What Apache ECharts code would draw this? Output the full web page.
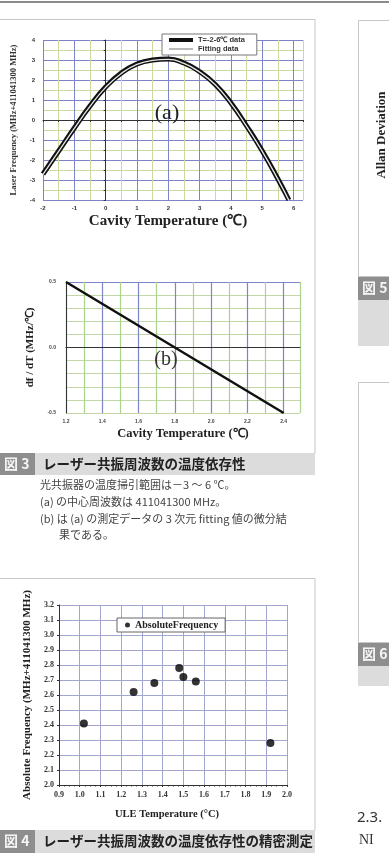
<!DOCTYPE html>
<html>
<head>
<meta charset="utf-8">
<script src="https://cdn.jsdelivr.net/npm/echarts@6/dist/echarts.min.js"></script>
<style>
html,body{margin:0;padding:0;background:#fff;}
#main{width:389px;height:853px;}
</style>
</head>
<body>
<div id="main"></div>
<script>
// 图3(a) 腔温度与激光频率
var tempA = [-2, -1.5, -1, -0.5, 0, 0.5, 1, 1.5, 2, 2.5, 3, 3.5, 4, 4.5, 5, 5.5, 5.85]
var freqData = [-2.7, -1.55, -0.4, 0.7, 1.65, 2.35, 2.8, 3.0, 3.05, 2.85, 2.42, 1.78, 0.85, -0.3, -1.55, -2.95, -4.0]
var freqFit = [-2.72, -1.57, -0.42, 0.68, 1.63, 2.33, 2.78, 2.98, 3.03, 2.83, 2.4, 1.76, 0.83, -0.32, -1.57, -2.97, -4.02]
// 图3(b) 微分结果
var tempB = [1.2, 1.5, 1.8, 2.1, 2.4]
var dfdt = [0.5, 0.25, 0.0, -0.25, -0.5]
// 图4 精密测定
var uleTemp = [1.02, 1.26, 1.36, 1.48, 1.50, 1.56, 1.92]
var absFreq = [2.41, 2.62, 2.68, 2.78, 2.72, 2.69, 2.28]

var blue = '#7d84c8'
var green = '#cadba2'
var serif = 'Liberation Serif'
var jp = 'Noto Sans CJK JP'

function pairs(xs, ys) {
    return xs.map(function (x, i) { return [x, ys[i]]; });
}

var myChart = echarts.init(document.getElementById('main'));

var option = {
    animation: false,
    backgroundColor: '#fff',
    grid: [
        {left: 43, top: 40, width: 260, height: 160},
        {left: 66, top: 282, width: 234, height: 131},
        {left: 59, top: 605, width: 228, height: 180}
    ],
    xAxis: [
        {
            gridIndex: 0, type: 'value', min: -2, max: 6.3, interval: 0.5,
            name: 'Cavity Temperature (℃)', nameLocation: 'middle', nameGap: 14,
            nameTextStyle: {fontFamily: serif, fontWeight: 'bold', fontSize: 15, color: '#222', padding: [0, 10, 0, 0]},
            axisLine: {lineStyle: {color: '#333'}},
            axisTick: {length: 2, lineStyle: {color: '#333'}},
            axisLabel: {fontSize: 6, fontWeight: 'bold', color: '#333', margin: 5,
                formatter: function (v) { return Number.isInteger(v) ? v : ''; }},
            splitLine: {show: true, lineStyle: {color: [blue, green], width: 1}}
        },
        {
            gridIndex: 1, type: 'value', min: 1.2, max: 2.49, interval: 0.1,
            name: 'Cavity Temperature (℃)', nameLocation: 'middle', nameGap: 14,
            nameTextStyle: {fontFamily: serif, fontWeight: 'bold', fontSize: 12.5, color: '#222'},
            axisLine: {lineStyle: {color: '#333'}},
            axisTick: {show: false},
            axisLabel: {fontSize: 5, fontWeight: 'bold', color: '#444', margin: 6,
                formatter: function (v) {
                    return (Math.round(v * 10) % 2 === 0 && v < 2.45) ? v.toFixed(1) : '';
                }},
            splitLine: {show: true, lineStyle: {color: [blue, '#a9d28c'], width: 1.2}}
        },
        {
            gridIndex: 2, type: 'value', min: 0.9, max: 2.0, interval: 0.1,
            name: 'ULE Temperature (°C)', nameLocation: 'middle', nameGap: 24,
            nameTextStyle: {fontFamily: serif, fontWeight: 'bold', fontSize: 10.5, color: '#222', padding: [0, 12, 0, 0]},
            axisLine: {lineStyle: {color: '#333'}},
            axisTick: {length: 2, lineStyle: {color: '#333'}},
            minorTick: {show: true, splitNumber: 4, length: 1.5},
            axisLabel: {fontSize: 8, fontWeight: 'bold', fontFamily: serif, color: '#333', margin: 6,
                formatter: function (v) { return v.toFixed(1); }},
            splitLine: {show: true, lineStyle: {color: '#a2a6cf', width: 1}}
        }
    ],
    yAxis: [
        {
            gridIndex: 0, type: 'value', min: -4, max: 4, interval: 0.5,
            name: 'Laser Frequency (MHz+411041300 MHz)', nameLocation: 'middle', nameGap: 24,
            nameTextStyle: {fontFamily: serif, fontWeight: 'bold', fontSize: 8.5, color: '#333'},
            axisLine: {show: true, lineStyle: {color: '#333'}},
            axisTick: {length: 2, lineStyle: {color: '#333'}},
            axisLabel: {fontSize: 6, fontWeight: 'bold', color: '#333', margin: 8,
                formatter: function (v) { return Number.isInteger(v) ? v : ''; }},
            splitLine: {show: true, lineStyle: {color: [blue, green], width: 1}}
        },
        {
            gridIndex: 1, type: 'value', min: -0.5, max: 0.5, interval: 0.1,
            name: 'df / dT (MHz/℃)', nameLocation: 'middle', nameGap: 30,
            nameTextStyle: {fontFamily: serif, fontWeight: 'bold', fontSize: 11, color: '#222'},
            axisLine: {show: true, lineStyle: {color: '#333'}},
            axisTick: {show: false},
            axisLabel: {fontSize: 5, fontWeight: 'bold', color: '#444', margin: 10,
                formatter: function (v) {
                    return Math.abs(Math.round(v * 10)) % 5 === 0 ? v.toFixed(1) : '';
                }},
            splitLine: {show: true, lineStyle: {
                color: ['#c3d6a6', '#c3d6a6', '#c3d6a6', '#c3d6a6', '#c3d6a6', blue,
                    '#c3d6a6', '#c3d6a6', '#c3d6a6', '#c3d6a6', blue], width: 1.2}}
        },
        {
            gridIndex: 2, type: 'value', min: 2.0, max: 3.2, interval: 0.1,
            name: 'Absolute Frequency (MHz+411041300 MHz)', nameLocation: 'middle', nameGap: 24,
            nameTextStyle: {fontFamily: serif, fontWeight: 'bold', fontSize: 11, color: '#222'},
            axisLine: {show: true, lineStyle: {color: '#333'}},
            axisTick: {length: 2, lineStyle: {color: '#333'}},
            axisLabel: {fontSize: 8, fontWeight: 'bold', fontFamily: serif, color: '#333', margin: 5,
                formatter: function (v) { return v.toFixed(1); }},
            splitLine: {show: true, lineStyle: {color: '#a2a6cf', width: 1}}
        }
    ],
    legend: [
        {
            data: [
                {name: 'T=-2-6℃ data', lineStyle: {color: '#111', width: 4}},
                {name: 'Fitting data', lineStyle: {color: '#777', width: 1}}
            ],
            left: 162, top: 34, orient: 'vertical', selectedMode: false,
            itemWidth: 24, itemHeight: 8, itemGap: 1, padding: [2, 12, 2, 5],
            itemStyle: {opacity: 0},
            borderColor: '#777', borderWidth: 1, backgroundColor: '#fff',
            textStyle: {fontSize: 7.5, fontWeight: 'bold', fontFamily: 'Liberation Sans', color: '#333'}
        },
        {
            data: ['AbsoluteFrequency'],
            left: 117, top: 618, selectedMode: false, icon: 'circle',
            itemWidth: 5, itemHeight: 5, padding: [2, 7, 2, 8],
            borderColor: '#666', borderWidth: 1, backgroundColor: '#fff',
            textStyle: {fontSize: 10, fontWeight: 'bold', fontFamily: serif, color: '#222'}
        }
    ],
    series: [
        {
            name: 'T=-2-6℃ data', type: 'line', xAxisIndex: 0, yAxisIndex: 0,
            data: pairs(tempA, freqData), smooth: true, symbol: 'none', color: '#111',
            lineStyle: {color: '#111', width: 5}, z: 3
        },
        {
            name: 'Fitting data', type: 'line', xAxisIndex: 0, yAxisIndex: 0,
            data: pairs(tempA, freqFit), smooth: true, symbol: 'none', color: '#e6e6e6',
            lineStyle: {color: '#e6e6e6', width: 1.3}, z: 4
        },
        {
            name: 'dfdT', type: 'line', xAxisIndex: 1, yAxisIndex: 1,
            data: pairs(tempB, dfdt), symbol: 'none', color: '#111',
            lineStyle: {color: '#111', width: 2.5}
        },
        {
            name: 'AbsoluteFrequency', type: 'scatter', xAxisIndex: 2, yAxisIndex: 2,
            data: pairs(uleTemp, absFreq), symbolSize: 8, color: '#000'
        }
    ],
    graphic: {elements: [
        // 页面边框与图题
        {type: 'line', shape: {x1: 0, y1: 2, x2: 389, y2: 2}, style: {stroke: '#666', lineWidth: 1.5}},
        {type: 'rect', shape: {x: -1, y: 19.5, width: 316, height: 434}, style: {fill: null, stroke: '#c6c6c6', lineWidth: 1}},
        {type: 'rect', shape: {x: 0, y: 453, width: 35, height: 22}, style: {fill: '#8e8e8e'}},
        {type: 'rect', shape: {x: 35, y: 453, width: 280, height: 22}, style: {fill: '#dcdcdc'}},
        {type: 'text', x: 4, y: 464, style: {text: '図 3', font: 'bold 14px ' + jp, fill: '#f5f5f5', verticalAlign: 'middle'}},
        {type: 'text', x: 43, y: 464, style: {text: 'レーザー共振周波数の温度依存性', font: 'bold 13.5px ' + jp, fill: '#222', verticalAlign: 'middle'}},
        {type: 'text', x: 40, y: 485, style: {text: '光共振器の温度掃引範囲は－3 ～ 6 ℃。', font: '11px ' + jp, fill: '#444', verticalAlign: 'middle'}},
        {type: 'text', x: 40, y: 502, style: {text: '(a) の中心周波数は 411041300 MHz。', font: '11px ' + jp, fill: '#444', verticalAlign: 'middle'}},
        {type: 'text', x: 40, y: 519, style: {text: '(b) は (a) の測定データの 3 次元 fitting 値の微分結', font: '11px ' + jp, fill: '#444', verticalAlign: 'middle'}},
        {type: 'text', x: 59, y: 535, style: {text: '果である。', font: '11px ' + jp, fill: '#444', verticalAlign: 'middle'}},
        {type: 'rect', shape: {x: -1, y: 578.5, width: 316, height: 252}, style: {fill: null, stroke: '#c6c6c6', lineWidth: 1}},
        {type: 'rect', shape: {x: 0, y: 830, width: 35, height: 23}, style: {fill: '#8e8e8e'}},
        {type: 'rect', shape: {x: 35, y: 830, width: 280, height: 23}, style: {fill: '#dcdcdc'}},
        {type: 'text', x: 4, y: 841, style: {text: '図 4', font: 'bold 14px ' + jp, fill: '#f5f5f5', verticalAlign: 'middle'}},
        {type: 'text', x: 43, y: 841, style: {text: 'レーザー共振周波数の温度依存性の精密測定', font: 'bold 13.5px ' + jp, fill: '#222', verticalAlign: 'middle'}},
        // 面板标记
        {type: 'text', x: 167, y: 113, z: 10, style: {text: '(a)', font: '22px ' + serif, fill: '#222', align: 'center', verticalAlign: 'middle'}},
        {type: 'text', x: 166, y: 360, z: 10, style: {text: '(b)', font: '20px ' + serif, fill: '#333', align: 'center', verticalAlign: 'middle'}},
        // 右栏(被裁切)
        {type: 'rect', shape: {x: 358.5, y: 20.5, width: 40, height: 256}, style: {fill: null, stroke: '#c6c6c6', lineWidth: 1}},
        {type: 'text', x: 382, y: 135, rotation: Math.PI / 2, style: {text: 'Allan Deviation', font: 'bold 13px ' + serif, fill: '#222', align: 'center', verticalAlign: 'middle'}},
        {type: 'rect', shape: {x: 358, y: 277, width: 40, height: 23}, style: {fill: '#8e8e8e'}},
        {type: 'text', x: 362, y: 288, style: {text: '図 5', font: 'bold 14px ' + jp, fill: '#f5f5f5', verticalAlign: 'middle'}},
        {type: 'rect', shape: {x: 358, y: 300, width: 40, height: 46}, style: {fill: '#dcdcdc'}},
        {type: 'rect', shape: {x: 358.5, y: 382.5, width: 40, height: 260}, style: {fill: null, stroke: '#c6c6c6', lineWidth: 1}},
        {type: 'rect', shape: {x: 358, y: 643, width: 40, height: 23}, style: {fill: '#8e8e8e'}},
        {type: 'text', x: 362, y: 654, style: {text: '図 6', font: 'bold 14px ' + jp, fill: '#f5f5f5', verticalAlign: 'middle'}},
        {type: 'rect', shape: {x: 358, y: 666, width: 40, height: 20}, style: {fill: '#dcdcdc'}},
        {type: 'text', x: 357, y: 818, style: {text: '2.3.', font: '15px Noto Sans', fill: '#333', verticalAlign: 'middle'}},
        {type: 'text', x: 359, y: 840, style: {text: 'NI', font: '14px ' + serif, fill: '#333', verticalAlign: 'middle'}}
    ]}
};

myChart.setOption(option);
</script>
</body>
</html>
